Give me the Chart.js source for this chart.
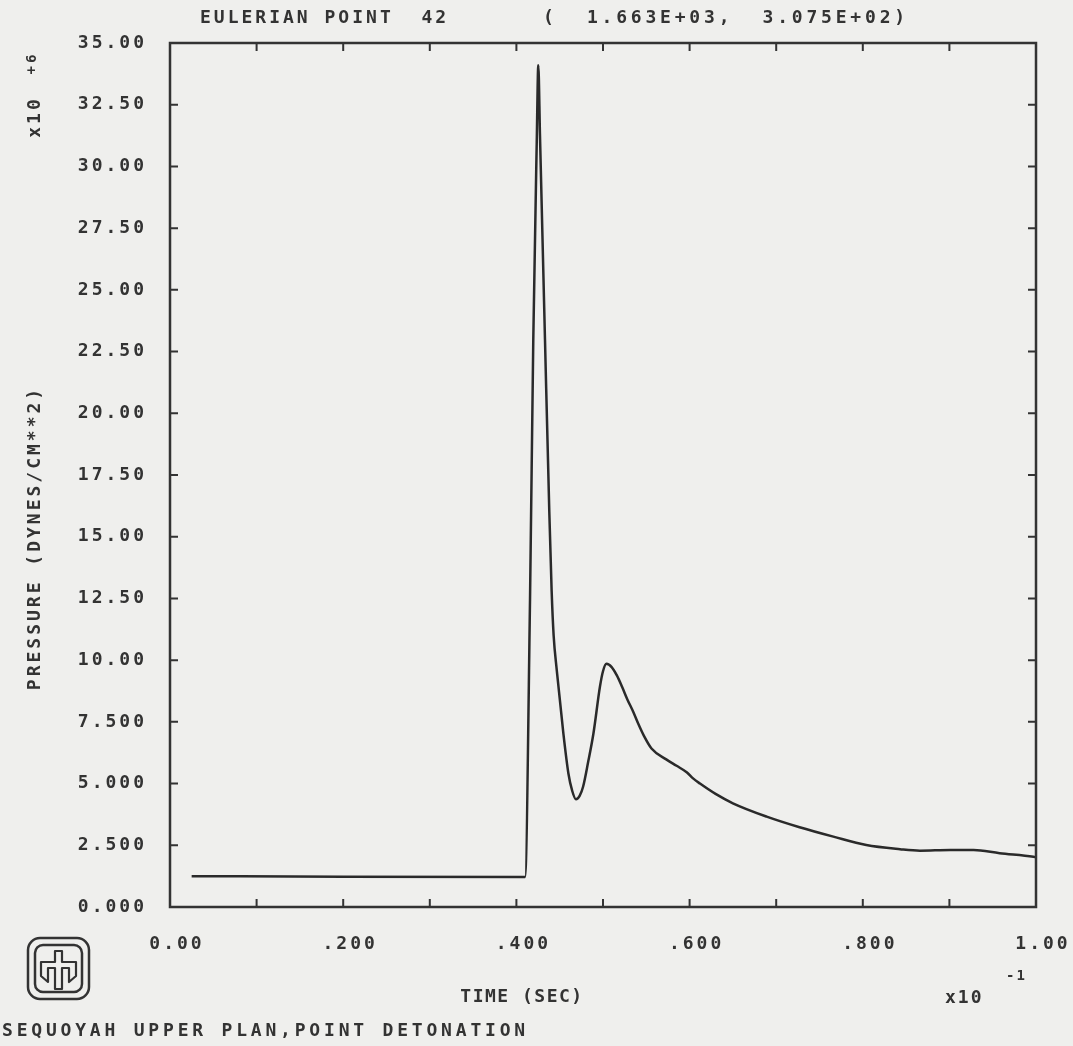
<!DOCTYPE html>
<html lang="en">
<head>
  <meta charset="UTF-8">
  <title>Eulerian Point 42 - Pressure History</title>
  <style>
    html, body { margin: 0; padding: 0; background: #efefed; }
    canvas { display: block; }
  </style>
</head>
<body>
  <canvas id="pressureChart" width="1073" height="1046"></canvas>

  <script src="https://cdn.jsdelivr.net/npm/chart.js"></script>
  <script>
    // time in units of 10^-1 sec
    const timeValues = [
      0.025, 0.200, 0.410, 0.4157, 0.4195, 0.4235, 0.4253, 0.4272, 0.433, 0.438,
      0.4407, 0.443, 0.4466, 0.4542, 0.460, 0.4645, 0.4688, 0.473, 0.477, 0.483,
      0.489, 0.4965, 0.500, 0.504, 0.510, 0.516, 0.522, 0.528, 0.535, 0.541,
      0.547, 0.556, 0.573, 0.585, 0.597, 0.604, 0.612, 0.630, 0.650, 0.689,
      0.727, 0.766, 0.804, 0.843, 0.866, 0.901, 0.928, 0.958, 0.997, 1.000
    ];
    // pressure in units of 10^6 dynes/cm**2
    const pressureValues = [
      1.25, 1.23, 1.22, 12.4, 23.0, 31.0, 34.1, 31.3, 23.0, 16.0,
      12.8, 11.0, 9.60, 7.04, 5.42, 4.70, 4.36, 4.50, 4.87, 5.90,
      7.04, 8.93, 9.55, 9.85, 9.72, 9.38, 8.92, 8.42, 7.90, 7.40,
      6.95, 6.42, 5.98, 5.72, 5.45, 5.21, 5.00, 4.58, 4.20, 3.66,
      3.23, 2.85, 2.51, 2.34, 2.28, 2.31, 2.31, 2.18, 2.04, 2.02
    ];

    const xTickLabels = ['0.00', '', '.200', '', '.400', '', '.600', '', '.800', '', '1.00'];
    const yTickLabels = [
      '0.000', '2.500', '5.000', '7.500', '10.00', '12.50', '15.00', '17.50',
      '20.00', '22.50', '25.00', '27.50', '30.00', '32.50', '35.00'
    ];

    const titleLeft = 'EULERIAN POINT  42';
    const titleRight = '(  1.663E+03,  3.075E+02)';
    const yAxisTitle = 'PRESSURE (DYNES/CM**2)';
    const xAxisTitle = 'TIME (SEC)';
    const footerText = 'SEQUOYAH UPPER PLAN,POINT DETONATION';

    const INK = '#333333';
    const PAPER = '#efefed';
    const FAMILY = '"DejaVu Sans Mono", monospace';

    // thunderbird emblem in the lower left corner
    function drawEmblem(ctx) {
      ctx.save();
      ctx.strokeStyle = INK;
      ctx.lineWidth = 2.5;
      ctx.beginPath();
      ctx.roundRect(28, 938, 61, 61, 12);
      ctx.stroke();
      ctx.beginPath();
      ctx.roundRect(35, 945, 47, 47, 8);
      ctx.stroke();
      ctx.lineWidth = 2.2;
      ctx.lineJoin = 'round';
      ctx.beginPath();
      ctx.moveTo(55, 989);
      ctx.lineTo(55, 968);
      ctx.lineTo(48, 968);
      ctx.lineTo(48, 982);
      ctx.lineTo(41, 976);
      ctx.lineTo(41, 962);
      ctx.lineTo(55, 962);
      ctx.lineTo(55, 951);
      ctx.lineTo(62, 951);
      ctx.lineTo(62, 962);
      ctx.lineTo(76, 962);
      ctx.lineTo(76, 976);
      ctx.lineTo(69, 982);
      ctx.lineTo(69, 968);
      ctx.lineTo(62, 968);
      ctx.lineTo(62, 989);
      ctx.closePath();
      ctx.stroke();
      ctx.restore();
    }

    const plotterFrame = {
      id: 'plotterFrame',
      beforeDraw(chart) {
        const ctx = chart.ctx;
        ctx.save();
        ctx.fillStyle = PAPER;
        ctx.fillRect(0, 0, chart.width, chart.height);
        ctx.restore();
        ctx.letterSpacing = '3px';
      },
      afterDraw(chart) {
        const { ctx, chartArea: a, scales } = chart;
        ctx.save();
        ctx.strokeStyle = INK;

        // frame
        ctx.lineWidth = 2.5;
        ctx.strokeRect(a.left, a.top, a.right - a.left, a.bottom - a.top);

        // inward tick marks on all four sides
        const len = 8;
        ctx.lineWidth = 2;
        ctx.beginPath();
        scales.x.ticks.forEach(t => {
          const px = scales.x.getPixelForValue(t.value);
          if (px <= a.left + 1 || px >= a.right - 1) return;
          ctx.moveTo(px, a.bottom); ctx.lineTo(px, a.bottom - len);
          ctx.moveTo(px, a.top); ctx.lineTo(px, a.top + len);
        });
        scales.y.ticks.forEach(t => {
          const py = scales.y.getPixelForValue(t.value);
          if (py <= a.top + 1 || py >= a.bottom - 1) return;
          ctx.moveTo(a.left, py); ctx.lineTo(a.left + len, py);
          ctx.moveTo(a.right, py); ctx.lineTo(a.right - len, py);
        });
        ctx.stroke();

        // texts
        const font = 'bold 18px ' + FAMILY;
        const small = 'bold 14px ' + FAMILY;
        ctx.fillStyle = INK;
        ctx.font = font;
        ctx.textBaseline = 'middle';
        ctx.textAlign = 'left';
        ctx.letterSpacing = '3px';
        ctx.fillText(titleLeft, 200, 18);
        ctx.letterSpacing = '3.8px';
        ctx.fillText(titleRight, 543, 18);

        ctx.letterSpacing = '1.5px';
        ctx.textAlign = 'center';
        ctx.fillText(xAxisTitle, 522, 997);
        ctx.textAlign = 'left';
        ctx.letterSpacing = '2px';
        ctx.fillText('x10', 945, 998);
        ctx.font = small;
        ctx.fillText('-1', 1006, 976);

        ctx.font = font;
        ctx.letterSpacing = '3.8px';
        ctx.fillText(footerText, 2, 1031);

        // rotated y-axis title and multiplier
        ctx.letterSpacing = '3px';
        ctx.save();
        ctx.translate(35, 538);
        ctx.rotate(-Math.PI / 2);
        ctx.textAlign = 'center';
        ctx.fillText(yAxisTitle, 0, 0);
        ctx.restore();

        ctx.save();
        ctx.translate(35, 117);
        ctx.rotate(-Math.PI / 2);
        ctx.textAlign = 'center';
        ctx.fillText('x10', 0, 0);
        ctx.font = small;
        ctx.fillText('+6', 54, -3);
        ctx.restore();

        drawEmblem(ctx);
        ctx.restore();
      }
    };

    const ctx = document.getElementById('pressureChart').getContext('2d');

    new Chart(ctx, {
      type: 'line',
      data: {
        datasets: [{
          label: 'Pressure',
          data: timeValues.map((t, i) => ({ x: t, y: pressureValues[i] })),
          borderColor: '#2a2a2a',
          borderWidth: 2.5,
          pointRadius: 0,
          fill: false,
          cubicInterpolationMode: 'monotone'
        }]
      },
      options: {
        responsive: false,
        animation: false,
        devicePixelRatio: 1,
        layout: { padding: { top: 43, right: 37, left: 0, bottom: 0 } },
        plugins: {
          legend: { display: false },
          tooltip: { enabled: false }
        },
        scales: {
          x: {
            type: 'linear',
            min: 0,
            max: 1,
            grid: { display: false, drawTicks: false },
            border: { display: false },
            ticks: {
              stepSize: 0.1,
              maxRotation: 0,
              autoSkip: false,
              padding: 27,
              labelOffset: 7,
              color: INK,
              font: { family: FAMILY, size: 18, weight: 'bold' },
              callback: (value, index) => xTickLabels[index]
            },
            afterFit: scale => {
              scale.height = 139;
              scale.paddingLeft = 0;
              scale.paddingRight = 0;
            }
          },
          y: {
            min: 0,
            max: 35,
            grid: { display: false, drawTicks: false },
            border: { display: false },
            ticks: {
              stepSize: 2.5,
              autoSkip: false,
              padding: 23,
              color: INK,
              font: { family: FAMILY, size: 18, weight: 'bold' },
              callback: (value, index) => yTickLabels[index]
            },
            afterFit: scale => {
              scale.width = 170;
              scale.paddingTop = 0;
              scale.paddingBottom = 0;
            }
          }
        }
      },
      plugins: [plotterFrame]
    });
  </script>
</body>
</html>
